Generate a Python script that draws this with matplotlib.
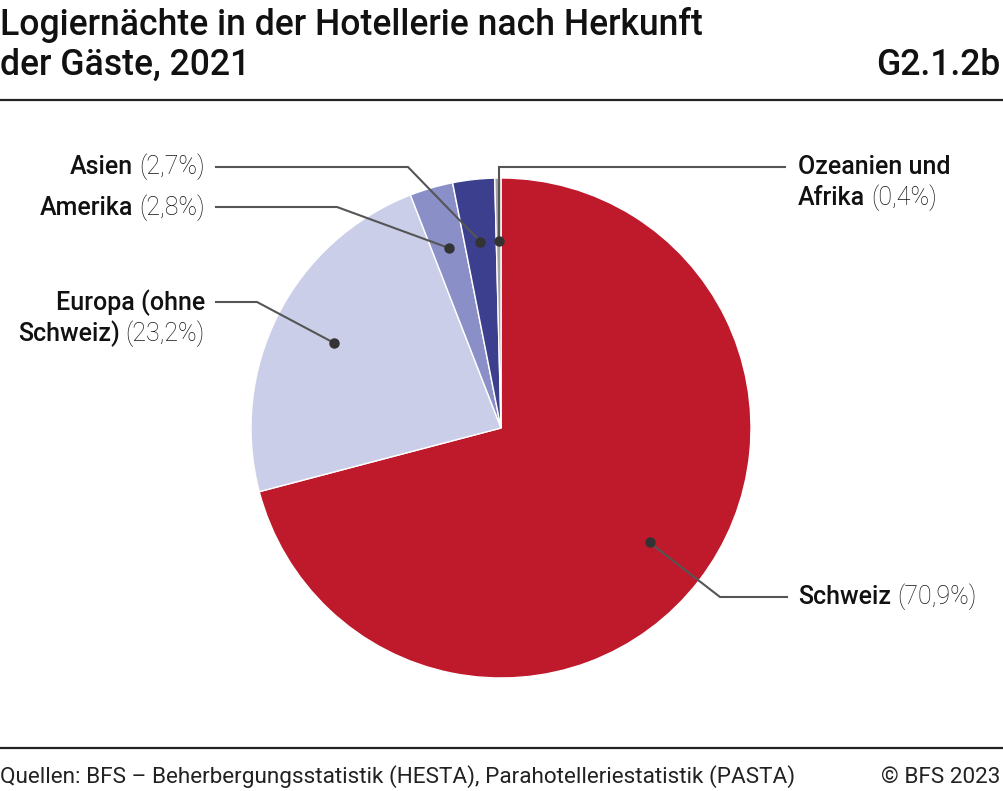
import matplotlib
matplotlib.use("Agg")
import matplotlib.pyplot as plt
import numpy as np

# Data
categories = ["Schweiz", "Europa (ohne\nSchweiz)", "Amerika", "Asien", "Ozeanien und\nAfrika"]
values = [70.9, 23.2, 2.8, 2.7, 0.4]
value_labels = ["(70,9%)", "(23,2%)", "(2,8%)", "(2,7%)", "(0,4%)"]
colors = ["#BE1A2C", "#CBCEE8", "#8A8FC7", "#3C3F8E", "#A3A3A3"]

title_lines = ["Logiernächte in der Hotellerie nach Herkunft", "der Gäste, 2021"]
code = "G2.1.2b"
source = "Quellen: BFS – Beherbergungsstatistik (HESTA), Parahotelleriestatistik (PASTA)"
copyright_txt = "© BFS 2023"

plt.rcParams['font.family'] = ['Roboto', 'DejaVu Sans']

W, H = 1004, 791
fig = plt.figure(figsize=(W / 100, H / 100), dpi=100)
ax = fig.add_axes([0, 0, 1, 1])
ax.set_xlim(0, W)
ax.set_ylim(0, H)
ax.axis("off")

def Y(py):
    return H - py

cx, cy, R = 501, Y(428), 250
wedges, _ = ax.pie(values, colors=colors, startangle=90, counterclock=False,
                   center=(cx, cy), radius=R, frame=True,
                   wedgeprops=dict(edgecolor="white", linewidth=1.0))
ax.set_xlim(0, W)
ax.set_ylim(0, H)
ax.set_aspect("equal")
ax.axis("off")

# Title
tfs = 25.6
ax.text(0, Y(35), title_lines[0], fontsize=tfs, fontweight="medium", color="#111111",
        ha="left", va="baseline")
ax.text(0, Y(75), title_lines[1], fontsize=tfs, fontweight="medium", color="#111111",
        ha="left", va="baseline")
ax.text(1000, Y(75), code, fontsize=tfs, fontweight="medium", color="#111111", ha="right", va="baseline")
ax.plot([0, W], [Y(100), Y(100)], color="#222222", lw=1.6, solid_capstyle="butt")
ax.plot([0, W], [Y(748), Y(748)], color="#222222", lw=1.6, solid_capstyle="butt")
ax.text(0, Y(783), source, fontsize=16.2, color="#222222", ha="left", va="baseline")
ax.text(1000, Y(783), copyright_txt, fontsize=16.2, color="#222222", ha="right", va="baseline")

# Anchor dots at 0.75 R along each wedge's mid angle
anchors = []
for w in wedges:
    mid = np.deg2rad((w.theta1 + w.theta2) / 2)
    anchors.append((cx + 0.75 * R * np.cos(mid), cy + 0.75 * R * np.sin(mid)))

lc = "#555555"
# leader-line bends (pixel coordinates) and label anchors
bends = [
    [(720, 597), (787, 597)],
    [(257, 302), (216, 302)],
    [(337, 207), (216, 207)],
    [(408, 167), (216, 167)],
    [None, (785, 167)],
]
label_pos = [(798, 597, "left"), (205, 303, "right"), (205, 208, "right"),
             (205, 167, "right"), (798, 167, "left")]

fig.canvas.draw()
renderer = fig.canvas.get_renderer()
fs = 18
lh = 31

def width_px(s, weight):
    t = ax.text(0, 0, s, fontsize=fs, fontweight=weight)
    bb = t.get_window_extent(renderer=renderer)
    t.remove()
    return bb.width

for i, (ax_, ay_) in enumerate(anchors):
    pts = [(ax_, ay_)]
    b = bends[i]
    if b[0] is None:
        pts.append((ax_, Y(b[1][1])))
        pts.append((b[1][0], Y(b[1][1])))
    else:
        for (px, py) in b:
            pts.append((px, Y(py)))
    xs, ys = zip(*pts)
    ax.plot(xs, ys, color=lc, lw=1.5, zorder=5, solid_joinstyle="miter")
    ax.plot([ax_], [ay_], "o", color="#333333", ms=6.5, zorder=6)

    lines = categories[i].split("\n")
    x0, y0, ha = label_pos[i]
    for j, ln in enumerate(lines):
        yy = Y(y0 + j * lh) - 7
        last = j == len(lines) - 1
        if ha == "left":
            ax.text(x0, yy, ln, fontsize=fs, fontweight="medium", ha="left", va="baseline", color="#111111")
            if last:
                wb = width_px(ln + " ", "medium")
                ax.text(x0 + wb, yy, value_labels[i], fontsize=fs, fontweight="light", ha="left", va="baseline", color="#111111")
        else:
            if last:
                ax.text(x0, yy, value_labels[i], fontsize=fs, fontweight="light", ha="right", va="baseline", color="#111111")
                wv = width_px(" " + value_labels[i], "light")
                ax.text(x0 - wv, yy, ln, fontsize=fs, fontweight="medium", ha="right", va="baseline", color="#111111")
            else:
                ax.text(x0, yy, ln, fontsize=fs, fontweight="medium", ha="right", va="baseline", color="#111111")

fig.savefig("out.png", dpi=100)
